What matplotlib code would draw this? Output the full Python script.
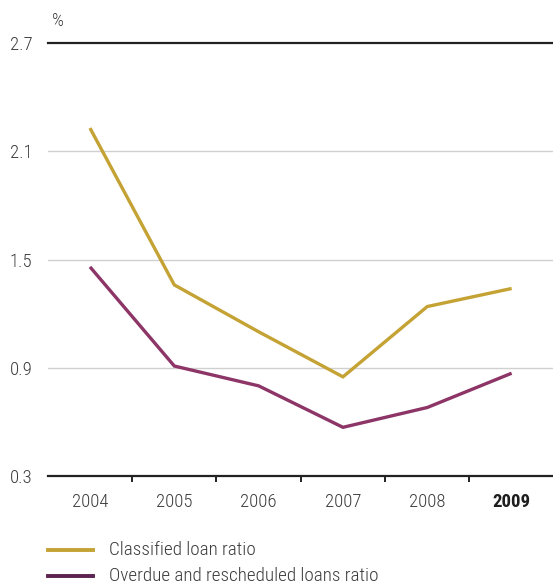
import matplotlib
matplotlib.use("Agg")
import matplotlib.pyplot as plt
from matplotlib import font_manager as fm
from matplotlib.lines import Line2D

years = ["2004", "2005", "2006", "2007", "2008", "2009"]
classified = [2.23, 1.36, 1.10, 0.85, 1.24, 1.34]
overdue = [1.46, 0.91, 0.80, 0.57, 0.68, 0.87]
yticks = [0.3, 0.9, 1.5, 2.1, 2.7]
series_names = ["Classified loan ratio", "Overdue and rescheduled loans ratio"]

available = {f.name for f in fm.fontManager.ttflist}
font = "DejaVu Sans"
for cand in ["Roboto Condensed", "Liberation Sans Narrow", "Roboto", "Lato"]:
    if cand in available:
        font = cand
        break
plt.rcParams["font.family"] = [font, "DejaVu Sans"]
plt.rcParams["font.weight"] = "light"

W, H = 553, 583
fig = plt.figure(figsize=(W / 100, H / 100), dpi=100)
left = 47.8 / W
right = 553.8 / W
bottom = 1 - 476 / H
top = 1 - 43.3 / H
ax = fig.add_axes([left, bottom, right - left, top - bottom])

gold = "#c4a234"
purple = "#8c3566"
purple_leg = "#5c2250"
txt = "#3c3c3c"

x = list(range(len(years)))
ax.plot(x, classified, color=gold, lw=2.4, solid_joinstyle="miter", solid_capstyle="butt", zorder=3)
ax.plot(x, overdue, color=purple, lw=2.4, solid_joinstyle="miter", solid_capstyle="butt", zorder=3)

ax.set_xlim(-0.5, 5.5)
ax.set_ylim(0.3, 2.7)
ax.set_yticks(yticks)
ax.set_yticklabels([f"{v:.1f}" for v in yticks])
ax.set_xticks(x)
ax.set_xticklabels(years)
ax.set_xticks([i + 0.5 for i in x[:-1]], minor=True)

for v in yticks[1:-1]:
    ax.axhline(v, color="#d0d0d0", lw=1.0, zorder=1)
ax.axhline(2.7, color="#222222", lw=1.6, zorder=2, clip_on=False)

for s in ["top", "right", "left"]:
    ax.spines[s].set_visible(False)
ax.spines["bottom"].set_color("#222222")
ax.spines["bottom"].set_linewidth(1.6)

ax.tick_params(axis="y", length=0, pad=11, labelsize=13.5, labelcolor=txt)
ax.tick_params(axis="x", which="major", length=0, pad=12, labelsize=13.5, labelcolor=txt)
ax.tick_params(axis="x", which="minor", length=4.5, width=1.4, color="#222222", direction="out")
for lab in ax.get_yticklabels():
    lab.set_horizontalalignment("right")
xl = ax.get_xticklabels()
xl[-1].set_fontweight("bold")
xl[-1].set_color("#1e1e1e")

fig.text(52 / W, 1 - 21 / H, "%", fontsize=13.5, color=txt, ha="left", va="center")

# legend
for i, (name, col) in enumerate(zip(series_names, [gold, purple_leg])):
    yy = 1 - (550 + 26 * i) / H
    fig.add_artist(Line2D([48 / W, 93 / W], [yy, yy], color=col, lw=2.8, transform=fig.transFigure))
    fig.text(109 / W, yy, name, fontsize=13.8, color=txt, ha="left", va="center")

fig.savefig("out.png", dpi=100)
